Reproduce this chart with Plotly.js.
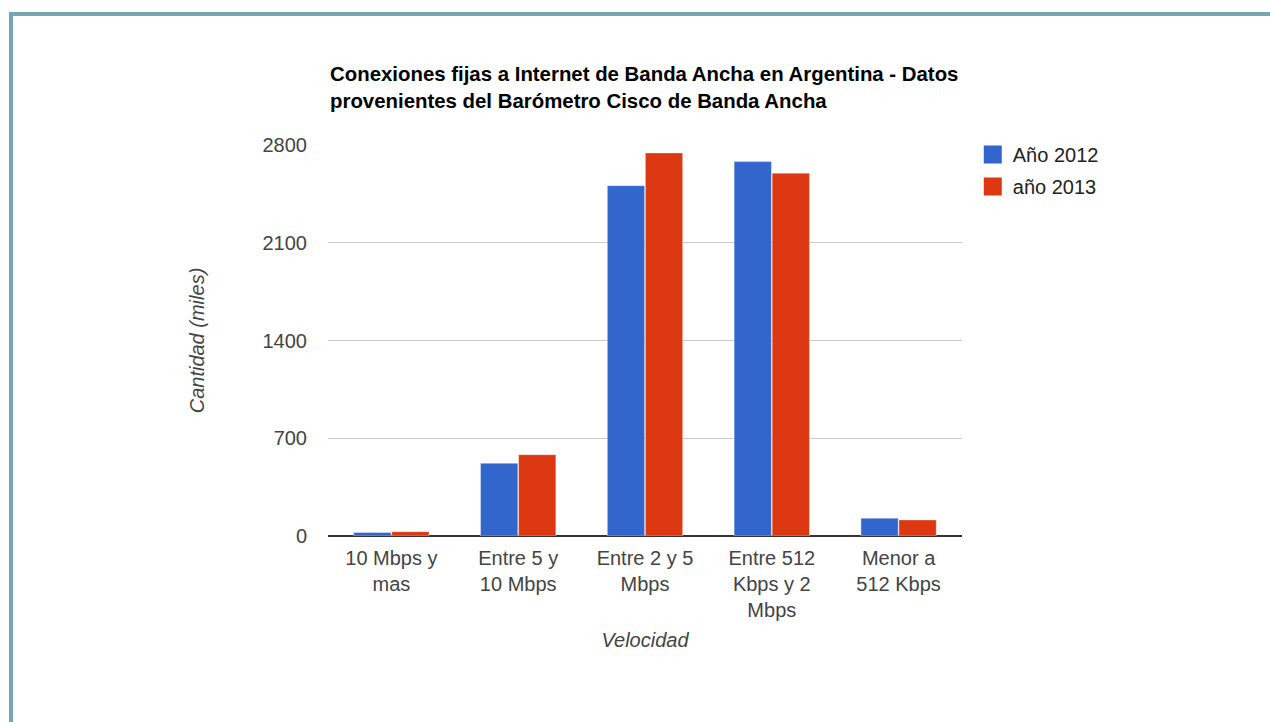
<!DOCTYPE html>
<html>
<head>
<meta charset="utf-8">
<script src="https://cdn.plot.ly/plotly-3.0.1.min.js"></script>
<style>
html,body{margin:0;padding:0;background:#fff;}
#chart{position:absolute;left:0;top:0;width:1270px;height:722px;}
#bt{position:absolute;left:9px;top:12px;width:1261px;height:4px;background:#77a5b0;z-index:5;}
#bl{position:absolute;left:9px;top:12px;width:4px;height:710px;background:#77a5b0;z-index:5;}
</style>
</head>
<body>
<div id="bt"></div><div id="bl"></div>
<div id="chart"></div>
<script>
var categories = ["10 Mbps y<br>mas", "Entre 5 y<br>10 Mbps", "Entre 2 y 5<br>Mbps", "Entre 512<br>Kbps y 2<br>Mbps", "Menor a<br>512 Kbps"];
var values2012 = [25, 521, 2509, 2681, 127];
var values2013 = [31, 582, 2743, 2598, 115];
var seriesNames = ["Año 2012", "año 2013"];
var seriesColors = ["#3366cc", "#dc3912"];
var yTicks = [0, 700, 1400, 2100, 2800];

var FONT = "Liberation Sans, Arial, sans-serif";
var FS = 20;
var traces = [
  {type:'bar', x:categories, y:values2012, name:seriesNames[0], showlegend:false, legendgroup:'a',
   marker:{color:seriesColors[0], line:{color:'rgba(255,255,255,0.35)', width:1}}},
  {type:'bar', x:categories, y:values2013, name:seriesNames[1], showlegend:false, legendgroup:'b',
   marker:{color:seriesColors[1], line:{color:'rgba(255,255,255,0.35)', width:1}}},
  {type:'scatter', mode:'markers', x:[null], y:[null], name:seriesNames[0], legendgroup:'a', showlegend:true,
   marker:{symbol:'square', size:16, color:seriesColors[0], line:{color:seriesColors[0], width:2}}},
  {type:'scatter', mode:'markers', x:[null], y:[null], name:seriesNames[1], legendgroup:'b', showlegend:true,
   marker:{symbol:'square', size:16, color:seriesColors[1], line:{color:seriesColors[1], width:2}}}
];
var layout = {
  width:1270, height:722,
  margin:{l:328, r:308, t:145, b:186, pad:0},
  paper_bgcolor:'rgba(0,0,0,0)', plot_bgcolor:'#fff',
  font:{family:FONT, size:FS, color:'#444'},
  barmode:'group', bargap:0.4, bargroupgap:0.02,
  title:{text:'<b>Conexiones fijas a Internet de Banda Ancha en Argentina - Datos<br>provenientes del Barómetro Cisco de Banda Ancha</b>',
         x:330/1270, xanchor:'left', xref:'container', y:1-81/722, yanchor:'top', yref:'container',
         font:{family:FONT, size:20.4, color:'#000'}},
  xaxis:{type:'category', showline:false, ticks:'', showgrid:false, ticklabelstandoff:8,
         tickfont:{family:FONT, size:FS, color:'#444'},
         title:{text:'<i>Velocidad</i>', font:{family:FONT, size:FS, color:'#444'}, standoff:12}},
  yaxis:{range:[0,2800], tickvals:yTicks, ticktext:yTicks.map(String), showgrid:true, gridcolor:'#cccccc', gridwidth:1,
         zeroline:true, zerolinecolor:'#333333', zerolinewidth:2, showline:false, ticks:'',
         tickfont:{family:FONT, size:FS, color:'#444'}, ticklabelstandoff:20,
         title:{text:'<i>Cantidad (miles)</i>', font:{family:FONT, size:FS, color:'#444'}, standoff:52}},
  legend:{x:1.017, xanchor:'left', y:1.0256, yanchor:'top', font:{family:FONT, size:FS, color:'#222'},
          bgcolor:'rgba(0,0,0,0)', traceorder:'grouped', tracegroupgap:3, itemsizing:'trace'},
  showlegend:true
};
Plotly.newPlot('chart', traces, layout, {displayModeBar:false, staticPlot:true});
</script>
</body>
</html>
